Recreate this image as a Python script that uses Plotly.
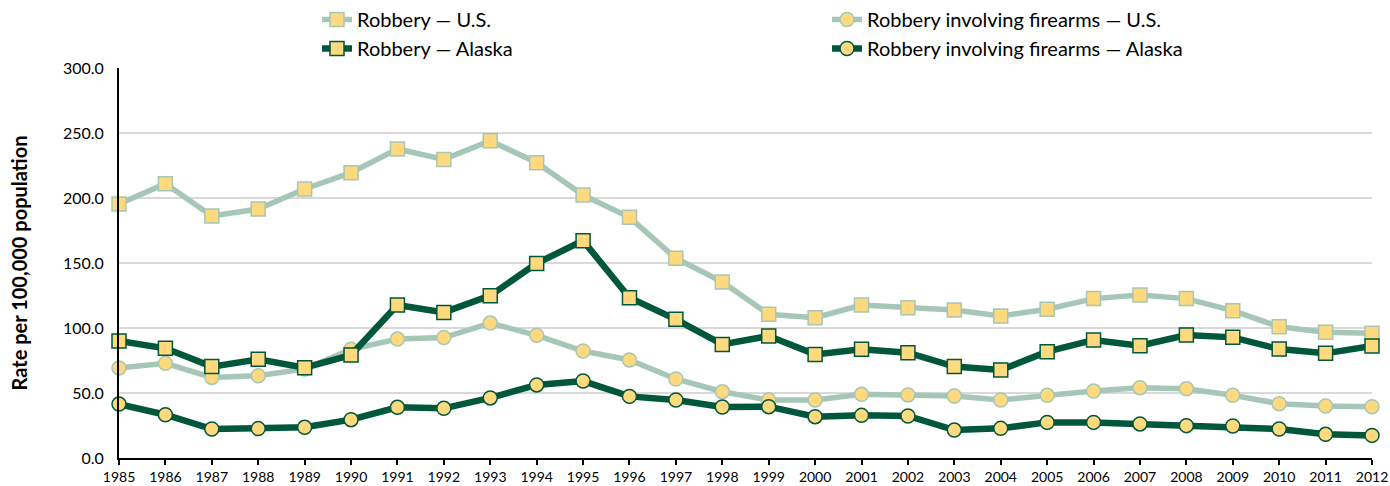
import plotly.graph_objects as go

years = list(range(1985, 2013))
robbery_us = [195.4, 211.0, 186.2, 191.5, 206.9, 219.5, 237.7, 229.7, 244.0, 227.2,
              202.3, 185.1, 153.6, 135.4, 110.5, 107.9, 117.7, 115.6, 113.8, 109.2,
              114.4, 122.6, 125.4, 122.6, 113.3, 101.0, 96.7, 95.9]
firearm_us = [69.2, 72.8, 62.0, 63.3, 68.5, 83.6, 91.5, 92.6, 103.8, 94.4,
              82.3, 75.4, 60.8, 51.0, 44.6, 44.6, 49.0, 48.5, 47.7, 44.6,
              48.2, 51.5, 54.1, 53.3, 48.2, 41.8, 40.0, 39.5]
robbery_ak = [90.0, 84.4, 70.3, 75.9, 69.5, 79.2, 117.7, 112.0, 124.9, 149.7,
              167.2, 123.3, 106.7, 87.4, 93.8, 79.7, 83.6, 81.0, 70.3, 67.7,
              81.8, 90.8, 86.4, 94.6, 92.8, 83.8, 80.5, 86.2]
firearm_ak = [41.5, 33.3, 22.3, 22.6, 23.6, 29.5, 39.0, 38.2, 46.2, 56.2,
              59.2, 47.4, 44.6, 39.2, 39.5, 31.8, 32.8, 32.3, 21.5, 22.8,
              27.4, 27.4, 26.2, 24.9, 24.6, 22.3, 18.2, 17.4]

LIGHT = "#a6c7b7"
DARK = "#00573c"
FILL = "#fed97d"
FONT = "Lato"

W, H = 1390, 486

fig = go.Figure()

def add(name, y, color, width, symbol, size):
    fig.add_trace(go.Scatter(
        x=years, y=y, name=name, mode="lines+markers",
        line=dict(color=color, width=width),
        marker=dict(symbol=symbol, size=size, color=FILL,
                    line=dict(color=color, width=1.5)),
        cliponaxis=False,
    ))

add("Robbery — U.S.", robbery_us, LIGHT, 5.5, "square", 14)
add("Robbery involving firearms — U.S.", firearm_us, LIGHT, 5.5, "circle", 14)
add("Robbery — Alaska", robbery_ak, DARK, 6.5, "square", 14)
add("Robbery involving firearms — Alaska", firearm_ak, DARK, 6.5, "circle", 14)

fig.update_layout(
    width=W, height=H,
    margin=dict(l=119, r=18, t=68, b=28, autoexpand=False),
    paper_bgcolor="white", plot_bgcolor="white",
    font=dict(family=FONT, color="#000000"),
    showlegend=True,
    legend=dict(
        orientation="h", x=317 / W, xref="container", xanchor="left",
        y=1.0, yref="container", yanchor="top",
        font=dict(size=20, family=FONT, color="#000000"),
        entrywidth=465, entrywidthmode="pixels",
        traceorder="normal", tracegroupgap=0, itemsizing="trace",
        bgcolor="rgba(0,0,0,0)",
    ),
    xaxis=dict(
        range=[1985, 2012], tickmode="array", tickvals=years,
        ticktext=[str(y) for y in years],
        showgrid=False, showline=True, linecolor="#000000", linewidth=2,
        ticks="outside", ticklen=5, tickcolor="#000000", tickwidth=1.5,
        tickfont=dict(size=14, family=FONT, color="#000000"),
        zeroline=False, automargin=False,
    ),
    yaxis=dict(
        range=[0, 300], dtick=50, tickformat=".1f",
        showgrid=True, gridcolor="#d9d9d9", gridwidth=1.5,
        showline=True, linecolor="#000000", linewidth=2,
        ticks="", tickfont=dict(size=16, family=FONT, color="#000000"),
        ticklabelstandoff=10,
        zeroline=False, automargin=False,
        title=dict(text="<b>Rate per 100,000 population</b>",
                   font=dict(size=20, family=FONT, color="#000000"), standoff=30),
    ),
)

fig.write_html(
    "out.html",
    config={"displayModeBar": False},
    post_script="document.body.style.margin='0';document.body.style.overflow='hidden';",
)
